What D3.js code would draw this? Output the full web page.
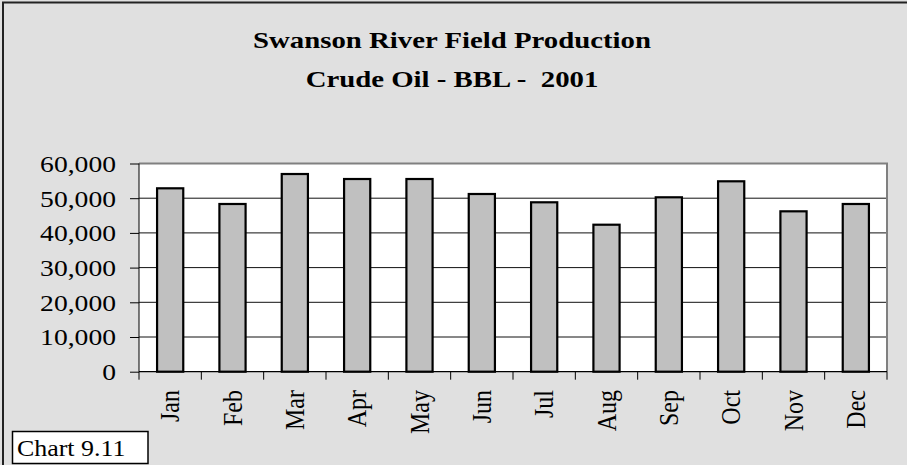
<!DOCTYPE html>
<html><head><meta charset="utf-8">
<script src="https://cdn.jsdelivr.net/npm/d3@7"></script>
<style>
html,body{margin:0;padding:0;background:#e0e0e0;overflow:hidden;}
text{font-family:"Liberation Serif","Times New Roman",serif;fill:#000;}
</style></head>
<body>
<svg id="c" width="907" height="465"></svg>
<script>
const months = ["Jan","Feb","Mar","Apr","May","Jun","Jul","Aug","Sep","Oct","Nov","Dec"];
const production = [52850,48330,56970,55530,55530,51210,48820,42360,50260,54870,46220,48330];
const yTicks = [0,10000,20000,30000,40000,50000,60000];
const titleLines = ["Swanson River Field Production","Crude Oil - BBL -  2001"];
const chartLabel = "Chart 9.11";

const svg = d3.select("#c");
const W = 907, H = 465;
const plot = {left:139, right:887, top:163.5, bottom:371.7};
const fs = 24;

// background + outer frame
svg.append("rect").attr("x",0).attr("y",0).attr("width",W).attr("height",H).attr("fill","#e0e0e0");
svg.append("rect").attr("x",3).attr("y",2.5).attr("width",W+10).attr("height",H+10)
  .attr("fill","none").attr("stroke","#222").attr("stroke-width",2);

const x = d3.scaleBand().domain(months).range([plot.left, plot.right]).padding(0);
const y = d3.scaleLinear().domain([0,60000]).range([plot.bottom, plot.top]);

// plot area
svg.append("rect").attr("x",plot.left).attr("y",plot.top)
  .attr("width",plot.right-plot.left).attr("height",plot.bottom-plot.top).attr("fill","#fff");

// gridlines
svg.append("g").selectAll("line").data(yTicks.filter(d=>d>0 && d<60000)).join("line")
  .attr("x1",plot.left).attr("x2",plot.right)
  .attr("y1",d=>y(d)).attr("y2",d=>y(d))
  .attr("stroke","#111").attr("stroke-width",1);

// plot border top/right (gray)
svg.append("path")
  .attr("d",`M${plot.left},${y(60000)}H${plot.right}V${plot.bottom}`)
  .attr("fill","none").attr("stroke","#808080").attr("stroke-width",2);

// bars
const bw = x.bandwidth()*0.42;
svg.append("g").selectAll("rect").data(months).join("rect")
  .attr("x",(d)=>x(d)+x.bandwidth()/2-bw/2)
  .attr("y",(d,i)=>y(production[i]))
  .attr("width",bw)
  .attr("height",(d,i)=>y(0)-y(production[i]))
  .attr("fill","#c0c0c0").attr("stroke","#000").attr("stroke-width",2.2);

// y axis
const yAxis = d3.axisLeft(y).tickValues(yTicks).tickSize(9).tickPadding(0).tickFormat(d3.format(","));
const gy = svg.append("g").attr("transform",`translate(${plot.left},0)`).call(yAxis);
gy.select(".domain").attr("stroke","#000").attr("stroke-width",1).attr("d",`M0,${plot.top}V${plot.bottom}`);
gy.selectAll(".tick line").attr("stroke","#000");
gy.selectAll(".tick text").each(function(){
  const t = d3.select(this);
  t.attr("x",null).attr("dy",null);
}).attr("font-size",fs).attr("text-anchor","end").attr("dy","0.33em")
  .attr("transform","translate(-23,0) scale(1.15,1)");

// x axis
const boundaries = months.map(m=>x(m)).concat([plot.right]);
svg.append("line").attr("x1",plot.left).attr("x2",plot.right).attr("y1",plot.bottom).attr("y2",plot.bottom)
  .attr("stroke","#000").attr("stroke-width",1.2);
svg.append("g").selectAll("line").data(boundaries).join("line")
  .attr("x1",d=>d).attr("x2",d=>d).attr("y1",plot.bottom).attr("y2",plot.bottom+8)
  .attr("stroke","#000").attr("stroke-width",1);
svg.append("g").selectAll("text").data(months).join("text")
  .attr("transform",d=>`translate(${x(d)+x.bandwidth()/2},390) scale(1.15,1) rotate(-90)`)
  .attr("text-anchor","end").attr("dy","0.33em").attr("font-size",fs).text(d=>d);

// title
svg.append("g").selectAll("text").data(titleLines).join("text")
  .attr("transform",(d,i)=>`translate(452,${i===0?47.5:87}) scale(1.2,1)`)
  .attr("text-anchor","middle").attr("font-weight","bold").attr("font-size",fs)
  .style("white-space","pre").text(d=>d);

// chart label box
svg.append("rect").attr("x",12.5).attr("y",431.5).attr("width",135.5).attr("height",32)
  .attr("fill","#fff").attr("stroke","#000").attr("stroke-width",1.5);
svg.append("text").attr("transform","translate(17,456) scale(1.08,1)")
  .attr("font-size",fs).text(chartLabel);
</script>
</body></html>
